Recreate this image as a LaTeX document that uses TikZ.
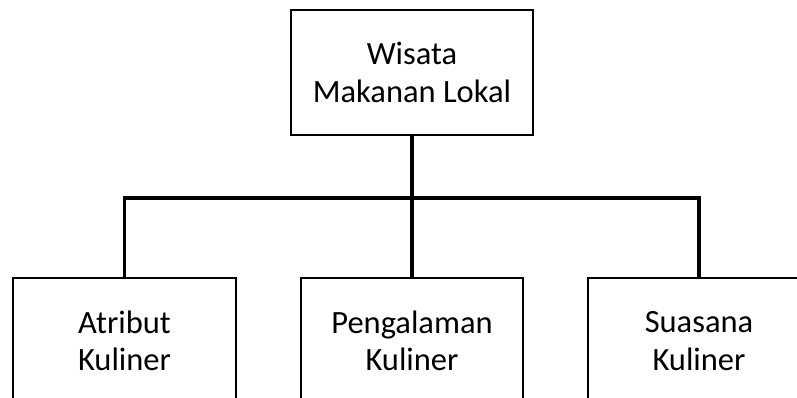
\documentclass[tikz,border=0pt]{standalone}
\usepackage{fontspec}
\setmainfont{Carlito}
\begin{document}
\begin{tikzpicture}[x=1pt,y=-1pt,
  box/.style={draw=black, line width=1.8pt, rectangle, align=center, inner sep=0pt,
    font=\fontsize{32.5}{37.5}\selectfont},
  conn/.style={draw=black, line width=3.6pt}]
\useasboundingbox (0,0) rectangle (797,398);
\clip (0,0) rectangle (797,398);
\node[box, minimum width=242pt, minimum height=125pt] (top) at (412,72.5) {Wisata\\Makanan Lokal};
\node[box, minimum width=223pt, minimum height=126pt] (b1) at (124.5,341) {Atribut\\Kuliner};
\node[box, minimum width=222pt, minimum height=126pt] (b2) at (412,341) {Pengalaman\\Kuliner};
\node[box, minimum width=222pt, minimum height=126pt] (b3) at (699,341) {Suasana\\Kuliner};
\draw[conn] (top.south) -- ++(0,62) coordinate (hub);
\draw[conn] (b1.north) |- (hub) -| (b3.north);
\draw[conn] (hub) -- (b2.north);
\end{tikzpicture}
\end{document}
